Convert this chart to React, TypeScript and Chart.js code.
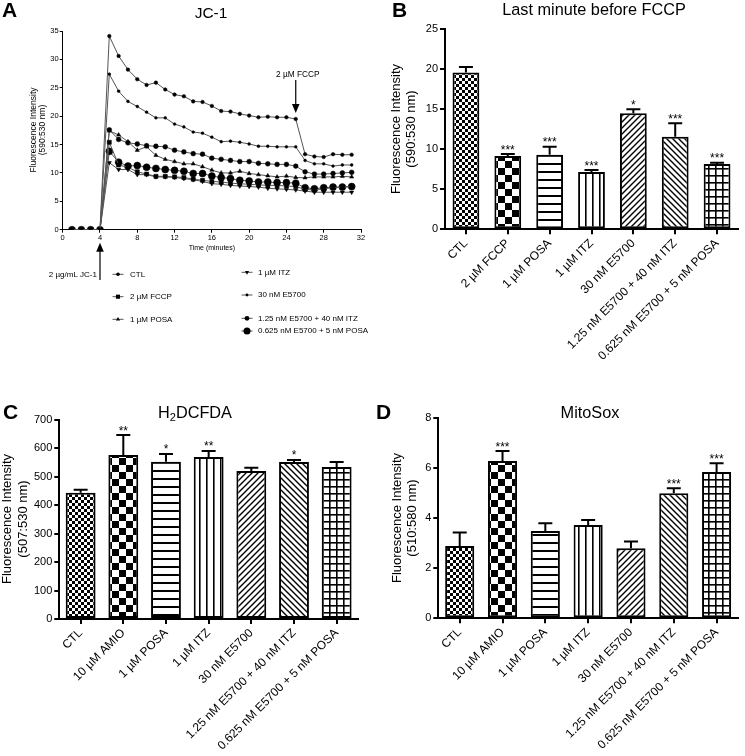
import React, { useEffect, useRef } from 'react';
import { Chart, registerables } from 'chart.js';
Chart.register(...registerables);

const FONT = "'Liberation Sans', Arial, Helvetica, sans-serif";
Chart.defaults.font.family = FONT;
Chart.defaults.color = '#000';

// ---------- Panel A: JC-1 time course ----------
const timeMinutes = [1, 2, 3, 4, 5, 6, 7, 8, 9, 10, 11, 12, 13, 14, 15, 16, 17, 18, 19, 20, 21, 22, 23, 24, 25, 26, 27, 28, 29, 30, 31];
const ctlTrace = [0, 0, 0, 0, 34.1, 30.6, 28.2, 26.5, 25.5, 25.9, 24.7, 23.8, 23.5, 22.6, 22.5, 21.8, 20.9, 20.8, 20.4, 20.1, 19.8, 19.9, 19.8, 19.8, 19.5, 13.3, 12.9, 12.8, 13.3, 13.2, 13.2];
const fccpTrace = [0, 0, 0, 0, 15.4, 11.4, 11.0, 10.2, 9.8, 9.4, 9.4, 9.3, 9.2, 8.9, 8.7, 8.5, 8.4, 8.2, 8.1, 8.0, 7.9, 7.8, 7.8, 7.7, 7.6, 7.1, 7.0, 7.2, 7.4, 7.5, 7.6];
const posaTrace = [0, 0, 0, 0, 17.4, 16.7, 15.5, 14.0, 14.6, 13.1, 12.4, 12.0, 11.6, 11.6, 11.1, 10.5, 10.0, 10.0, 10.3, 9.9, 9.7, 9.5, 9.3, 9.45, 9.2, 9.15, 9.3, 9.3, 9.3, 9.4, 9.3];
const itzTrace = [0, 0, 0, 0, 11.8, 10.6, 10.6, 9.7, 9.7, 9.3, 9.3, 9.2, 9.0, 8.8, 8.5, 8.1, 8.0, 7.8, 7.7, 7.6, 7.5, 7.3, 7.2, 7.1, 7.0, 6.8, 6.6, 6.6, 6.6, 6.6, 6.6];
const e5700Trace = [0, 0, 0, 0, 27.4, 24.4, 22.6, 21.7, 20.7, 19.7, 19.7, 18.6, 18.1, 17.2, 17.0, 16.3, 15.5, 15.6, 15.4, 15.1, 14.7, 14.7, 14.6, 14.6, 14.6, 12.2, 11.6, 11.6, 11.2, 11.4, 11.4];
const comboItzTrace = [0, 0, 0, 0, 17.6, 15.9, 15.3, 15.1, 14.8, 14.7, 14.6, 14.0, 13.7, 13.4, 13.3, 12.6, 12.4, 12.2, 12.0, 12.0, 11.7, 11.6, 11.5, 11.5, 11.2, 10.2, 9.8, 9.8, 9.9, 10.0, 10.1];
const comboPosaTrace = [0, 0, 0, 0, 13.8, 11.9, 11.2, 11.3, 11.0, 10.8, 10.6, 10.45, 10.3, 9.9, 9.9, 9.45, 9.2, 9.0, 8.7, 8.6, 8.4, 8.4, 8.3, 8.3, 8.2, 7.4, 7.2, 7.4, 7.5, 7.5, 7.6];
const traceLabels = ['CTL', '2 µM FCCP', '1 µM POSA', '1 µM ITZ', '30 nM E5700', '1.25 nM E5700 + 40 nM ITZ', '0.625 nM E5700 + 5 nM POSA'];
const aXTicks = [0, 4, 8, 12, 16, 20, 24, 28, 32];
const aYTicks = [0, 5, 10, 15, 20, 25, 30, 35];

// ---------- Panel B ----------
const bLabels = ['CTL', '2 µM FCCP', '1 µM POSA', '1 µM ITZ', '30 nM E5700', '1.25 nM E5700 + 40 nM ITZ', '0.625 nM E5700 + 5 nM POSA'];
const bMeans = [19.6, 9.17, 9.33, 7.17, 14.5, 11.58, 8.17];
const bSem = [0.7, 0.23, 1.0, 0.23, 0.5, 1.67, 0.16];
const bStars = ['', '***', '***', '***', '*', '***', '***'];

// ---------- Panel C ----------
const cLabels = ['CTL', '10 µM AMIO', '1 µM POSA', '1 µM ITZ', '30 nM E5700', '1.25 nM E5700 + 40 nM ITZ', '0.625 nM E5700 + 5 nM POSA'];
const cMeans = [444.5, 577, 553.5, 570, 520.7, 552, 535];
const cSem = [10.5, 70, 27, 21, 11.7, 7.5, 17];
const cStars = ['', '**', '*', '**', '', '*', ''];

// ---------- Panel D ----------
const dLabels = ['CTL', '10 µM AMIO', '1 µM POSA', '1 µM ITZ', '30 nM E5700', '1.25 nM E5700 + 40 nM ITZ', '0.625 nM E5700 + 5 nM POSA'];
const dMeans = [2.89, 6.29, 3.49, 3.73, 2.8, 5.0, 5.85];
const dSem = [0.54, 0.4, 0.31, 0.2, 0.27, 0.2, 0.35];
const dStars = ['', '***', '', '', '', '***', '***'];

type MarkerStyle = 'circle' | 'rect' | 'triangle';

function drawMarker(ctx: CanvasRenderingContext2D, style: MarkerStyle, x: number, y: number, r: number, rot = 0) {
  ctx.beginPath();
  if (style === 'circle') ctx.arc(x, y, r, 0, Math.PI * 2);
  else if (style === 'rect') {
    const s = r * Math.SQRT1_2;
    ctx.rect(x - s, y - s, 2 * s, 2 * s);
  } else {
    const d = rot === 180 ? -1 : 1;
    ctx.moveTo(x, y - d * r);
    ctx.lineTo(x - r * 0.866, y + d * r * 0.5);
    ctx.lineTo(x + r * 0.866, y + d * r * 0.5);
    ctx.closePath();
  }
  ctx.fill();
}

function drawArrow(ctx: CanvasRenderingContext2D, x: number, yTail: number, yTip: number, headLen: number, headHalf: number) {
  const dir = yTip > yTail ? 1 : -1;
  ctx.beginPath();
  ctx.moveTo(x, yTail);
  ctx.lineTo(x, yTip - dir * headLen * 0.8);
  ctx.stroke();
  ctx.beginPath();
  ctx.moveTo(x, yTip);
  ctx.lineTo(x - headHalf, yTip - dir * headLen);
  ctx.lineTo(x + headHalf, yTip - dir * headLen);
  ctx.closePath();
  ctx.fill();
}

function tile(w: number, h: number, draw: (g: CanvasRenderingContext2D) => void) {
  const c = document.createElement('canvas');
  c.width = w;
  c.height = h;
  const g = c.getContext('2d')!;
  g.fillStyle = '#fff';
  g.fillRect(0, 0, w, h);
  g.fillStyle = '#000';
  g.strokeStyle = '#000';
  draw(g);
  return c;
}

function makePatterns(ctx: CanvasRenderingContext2D) {
  const small = tile(6, 6, (g) => { g.fillRect(0, 0, 3, 3); g.fillRect(3, 3, 3, 3); });
  const large = tile(14, 14, (g) => { g.fillRect(0, 0, 7, 7); g.fillRect(7, 7, 7, 7); });
  const horiz = tile(8, 8, (g) => { g.fillRect(0, 3, 8, 2); });
  const vert = tile(7, 7, (g) => { g.fillRect(3, 0, 1.6, 7); });
  const fwd = tile(6, 6, (g) => {
    g.lineWidth = 1.4;
    g.beginPath();
    g.moveTo(-1, 7); g.lineTo(7, -1);
    g.moveTo(-1, 1); g.lineTo(1, -1);
    g.moveTo(5, 7); g.lineTo(7, 5);
    g.stroke();
  });
  const back = tile(6, 6, (g) => {
    g.lineWidth = 1.4;
    g.beginPath();
    g.moveTo(-1, -1); g.lineTo(7, 7);
    g.moveTo(5, -1); g.lineTo(7, 1);
    g.moveTo(-1, 5); g.lineTo(1, 7);
    g.stroke();
  });
  const grid = tile(7, 7, (g) => { g.fillRect(0, 0, 7, 1.6); g.fillRect(0, 0, 1.6, 7); });
  return [small, large, horiz, vert, fwd, back, grid].map((t) => ctx.createPattern(t, 'repeat')!);
}

interface BarGeom {
  width: number; height: number;
  padTop: number; padRight: number;
  yAxisWidth: number; xAxisHeight: number;
  barPct: number;
  yMax: number; yStep: number;
  letter: string; letterX: number; letterY: number;
  title: string; titleX: number; titleY: number; subscriptTitle?: boolean;
  yTitle1X: number; yTitle2X: number; yTitleY: number; yTitle2: string;
}

const TITLE_SIZE = 16.3;

function makeBarChart(canvas: HTMLCanvasElement, labels: string[], means: number[], sem: number[], stars: string[], g: BarGeom) {
  const ctx = canvas.getContext('2d')!;
  const patterns = makePatterns(ctx);
  const extras = {
    id: 'extras',
    afterDatasetsDraw(chart: any) {
      const c = chart.ctx as CanvasRenderingContext2D;
      const ys = chart.scales.y;
      const meta = chart.getDatasetMeta(0);
      c.save();
      c.strokeStyle = '#000';
      c.fillStyle = '#000';
      c.lineWidth = 2;
      meta.data.forEach((bar: any, i: number) => {
        const top = ys.getPixelForValue(means[i]);
        const e = ys.getPixelForValue(means[i] + sem[i]);
        c.beginPath();
        c.moveTo(bar.x, top);
        c.lineTo(bar.x, e);
        c.moveTo(bar.x - 7, e);
        c.lineTo(bar.x + 7, e);
        c.stroke();
        if (stars[i]) {
          c.font = `12px ${FONT}`;
          c.textAlign = 'center';
          c.textBaseline = 'alphabetic';
          c.fillText(stars[i], bar.x, e - 0.5);
        }
      });
      c.restore();
    },
    afterDraw(chart: any) {
      const c = chart.ctx as CanvasRenderingContext2D;
      c.save();
      c.fillStyle = '#000';
      c.textBaseline = 'alphabetic';
      c.font = `bold 21px ${FONT}`;
      c.textAlign = 'left';
      c.fillText(g.letter, g.letterX, g.letterY);
      c.font = `${TITLE_SIZE}px ${FONT}`;
      if (g.subscriptTitle) {
        const parts = ['H', '2', 'DCFDA'];
        const w0 = c.measureText('H').width;
        const w2 = c.measureText('DCFDA').width;
        c.font = `11px ${FONT}`;
        const w1 = c.measureText('2').width;
        let x = g.titleX - (w0 + w1 + w2) / 2;
        c.font = `${TITLE_SIZE}px ${FONT}`;
        c.fillText(parts[0], x, g.titleY); x += w0;
        c.font = `11px ${FONT}`;
        c.fillText(parts[1], x, g.titleY + 3); x += w1;
        c.font = `${TITLE_SIZE}px ${FONT}`;
        c.fillText(parts[2], x, g.titleY);
      } else {
        c.textAlign = 'center';
        c.fillText(g.title, g.titleX, g.titleY);
      }
      c.font = `13px ${FONT}`;
      c.textAlign = 'center';
      c.textBaseline = 'middle';
      c.translate(g.yTitle1X, g.yTitleY);
      c.rotate(-Math.PI / 2);
      c.fillText('Fluorescence Intensity', 0, 0);
      c.restore();
      c.save();
      c.fillStyle = '#000';
      c.font = `13px ${FONT}`;
      c.textAlign = 'center';
      c.textBaseline = 'middle';
      c.translate(g.yTitle2X, g.yTitleY);
      c.rotate(-Math.PI / 2);
      c.fillText(g.yTitle2, 0, 0);
      c.restore();
    },
  };
  return new Chart(canvas, {
    type: 'bar',
    data: {
      labels,
      datasets: [{
        data: means,
        backgroundColor: patterns as any,
        borderColor: '#000',
        borderWidth: 2,
        borderSkipped: false,
        barPercentage: g.barPct,
        categoryPercentage: 1,
      }],
    },
    options: {
      responsive: false,
      animation: false,
      devicePixelRatio: 1,
      layout: { padding: { top: g.padTop, right: g.padRight, left: 0, bottom: 0 } },
      plugins: { legend: { display: false }, tooltip: { enabled: false } },
      scales: {
        x: {
          afterFit: (s: any) => { s.height = g.xAxisHeight; },
          border: { color: '#000', width: 2 },
          grid: { drawOnChartArea: false, drawTicks: true, tickLength: 5, color: '#000', lineWidth: 2, offset: false },
          ticks: { font: { size: 12 }, color: '#000', maxRotation: 45, minRotation: 45, autoSkip: false, padding: 2 },
        },
        y: {
          min: 0,
          max: g.yMax,
          afterFit: (s: any) => { s.width = g.yAxisWidth; },
          border: { color: '#000', width: 2 },
          grid: { drawOnChartArea: false, drawTicks: true, tickLength: 5, color: '#000', lineWidth: 2 },
          ticks: { stepSize: g.yStep, font: { size: 11 }, color: '#000', padding: 2 },
        },
      },
    },
    plugins: [extras],
  } as any);
}

function makeLineChart(canvas: HTMLCanvasElement) {
  const traces = [ctlTrace, fccpTrace, posaTrace, itzTrace, e5700Trace, comboItzTrace, comboPosaTrace];
  const styles: { s: MarkerStyle; r: number; rot: number }[] = [
    { s: 'circle', r: 1.8, rot: 0 },
    { s: 'rect', r: 2.9, rot: 0 },
    { s: 'triangle', r: 2.4, rot: 0 },
    { s: 'triangle', r: 2.4, rot: 180 },
    { s: 'circle', r: 1.4, rot: 0 },
    { s: 'circle', r: 2.4, rot: 0 },
    { s: 'circle', r: 3.5, rot: 0 },
  ];
  const legendPos = [
    { x: 118, tx: 130, y: 274.3 },
    { x: 118, tx: 130, y: 296.7 },
    { x: 118, tx: 130, y: 319.3 },
    { x: 247, tx: 258, y: 272.3 },
    { x: 247, tx: 258, y: 295 },
    { x: 247, tx: 258, y: 318.3 },
    { x: 247, tx: 258, y: 331 },
  ];
  const extras = {
    id: 'extrasA',
    afterDraw(chart: any) {
      const c = chart.ctx as CanvasRenderingContext2D;
      const xs = chart.scales.x;
      const ys = chart.scales.y;
      const area = chart.chartArea;
      c.save();
      c.fillStyle = '#000';
      c.strokeStyle = '#000';
      c.font = `bold 21px ${FONT}`;
      c.textAlign = 'left';
      c.textBaseline = 'alphabetic';
      c.fillText('A', 2, 17);
      c.font = `15.5px ${FONT}`;
      c.textAlign = 'center';
      c.fillText('JC-1', 211, 18.3);
      c.font = `7px ${FONT}`;
      c.fillText('Time (minutes)', (area.left + area.right) / 2, 250);
      // y title
      c.font = `8.5px ${FONT}`;
      c.textBaseline = 'middle';
      c.save();
      c.translate(34, 130);
      c.rotate(-Math.PI / 2);
      c.fillText('Fluorescence Intensity', 0, 0);
      c.restore();
      c.save();
      c.translate(42.5, 130);
      c.rotate(-Math.PI / 2);
      c.fillText('(590:530 nm)', 0, 0);
      c.restore();
      // FCCP arrow
      const fx = xs.getPixelForValue(25);
      const fy = ys.getPixelForValue(ctlTrace[24]);
      c.lineWidth = 1.2;
      drawArrow(c, fx, 80, fy - 6, 9, 3.8);
      c.font = `8.3px ${FONT}`;
      c.textBaseline = 'alphabetic';
      c.textAlign = 'center';
      c.fillText('2 µM FCCP', fx + 2, 77);
      // JC-1 arrow
      const jx = xs.getPixelForValue(4);
      drawArrow(c, jx, 280, area.bottom + 13, 9, 3.8);
      c.font = `8px ${FONT}`;
      c.textAlign = 'right';
      c.textBaseline = 'middle';
      c.fillText('2 µg/mL JC-1', jx - 3, 274.3);
      // legend
      c.textAlign = 'left';
      traceLabels.forEach((lab, i) => {
        const p = legendPos[i];
        c.strokeStyle = '#555';
        c.lineWidth = 1;
        c.beginPath();
        c.moveTo(p.x - 5.5, p.y);
        c.lineTo(p.x + 5.5, p.y);
        c.stroke();
        c.fillStyle = '#000';
        drawMarker(c, styles[i].s, p.x, p.y, styles[i].r, styles[i].rot);
        c.fillText(lab, p.tx, p.y);
      });
      c.restore();
    },
  };
  return new Chart(canvas, {
    type: 'line',
    data: {
      datasets: traces.map((t, i) => ({
        label: traceLabels[i],
        data: timeMinutes.map((m, k) => ({ x: m, y: t[k] })),
        borderColor: '#555',
        borderWidth: 1,
        backgroundColor: '#000',
        pointBackgroundColor: '#000',
        pointBorderColor: '#000',
        pointBorderWidth: 0.5,
        pointStyle: styles[i].s,
        pointRotation: styles[i].rot,
        pointRadius: styles[i].r,
        tension: 0,
      })),
    },
    options: {
      responsive: false,
      animation: false,
      devicePixelRatio: 1,
      layout: { padding: { top: 31, right: 11, left: 0, bottom: 0 } },
      plugins: { legend: { display: false }, tooltip: { enabled: false } },
      scales: {
        x: {
          type: 'linear',
          min: aXTicks[0],
          max: aXTicks[aXTicks.length - 1],
          afterFit: (s: any) => { s.height = 345 - 229.7; },
          border: { color: '#000', width: 1 },
          grid: { drawOnChartArea: false, drawTicks: true, tickLength: 3, color: '#000', lineWidth: 1 },
          ticks: { stepSize: 4, font: { size: 7.5 }, color: '#000', padding: 1, maxRotation: 0 },
        },
        y: {
          min: aYTicks[0],
          max: aYTicks[aYTicks.length - 1],
          afterFit: (s: any) => { s.width = 62.7; },
          border: { color: '#000', width: 1 },
          grid: { drawOnChartArea: false, drawTicks: true, tickLength: 3, color: '#000', lineWidth: 1 },
          ticks: { stepSize: 5, font: { size: 7.5 }, color: '#000', padding: 1 },
        },
      },
    },
    plugins: [extras],
  } as any);
}

export default function App() {
  const aRef = useRef<HTMLCanvasElement>(null);
  const bRef = useRef<HTMLCanvasElement>(null);
  const cRef = useRef<HTMLCanvasElement>(null);
  const dRef = useRef<HTMLCanvasElement>(null);

  useEffect(() => {
    const charts: Chart[] = [];
    charts.push(makeLineChart(aRef.current!));
    charts.push(makeBarChart(bRef.current!, bLabels, bMeans, bSem, bStars, {
      width: 373, height: 385, padTop: 29.3, padRight: 7, yAxisWidth: 73, xAxisHeight: 155.7, barPct: 0.64,
      yMax: 25, yStep: 5,
      letter: 'B', letterX: 20, letterY: 16.7,
      title: 'Last minute before FCCP', titleX: 222, titleY: 14.5,
      yTitle1X: 24.7, yTitle2X: 39.7, yTitleY: 129, yTitle2: '(590:530 nm)',
    }));
    charts.push(makeBarChart(cRef.current!, cLabels, cMeans, cSem, cStars, {
      width: 372, height: 361, padTop: 25, padRight: 14, yAxisWidth: 59.3, xAxisHeight: 137, barPct: 0.7,
      yMax: 700, yStep: 100,
      letter: 'C', letterX: 3, letterY: 24,
      title: 'H2DCFDA', titleX: 195, titleY: 23, subscriptTitle: true,
      yTitle1X: 7, yTitle2X: 23, yTitleY: 124, yTitle2: '(507:530 nm)',
    }));
    charts.push(makeBarChart(dRef.current!, dLabels, dMeans, dSem, dStars, {
      width: 373, height: 361, padTop: 23.3, padRight: 7, yAxisWidth: 66.3, xAxisHeight: 137.7, barPct: 0.68,
      yMax: 8, yStep: 2,
      letter: 'D', letterX: 4, letterY: 24,
      title: 'MitoSox', titleX: 218, titleY: 23,
      yTitle1X: 25, yTitle2X: 40, yTitleY: 123, yTitle2: '(510:580 nm)',
    }));
    return () => charts.forEach((c) => c.destroy());
  }, []);

  return (
    <div style={{ position: 'absolute', left: 0, top: 0, width: 745, height: 756, background: '#fff', overflow: 'hidden' }}>
      <canvas ref={aRef} width={372} height={345} style={{ position: 'absolute', left: 0, top: 0 }} />
      <canvas ref={bRef} width={373} height={385} style={{ position: 'absolute', left: 372, top: 0 }} />
      <canvas ref={cRef} width={372} height={361} style={{ position: 'absolute', left: 0, top: 395 }} />
      <canvas ref={dRef} width={373} height={361} style={{ position: 'absolute', left: 372, top: 395 }} />
    </div>
  );
}
